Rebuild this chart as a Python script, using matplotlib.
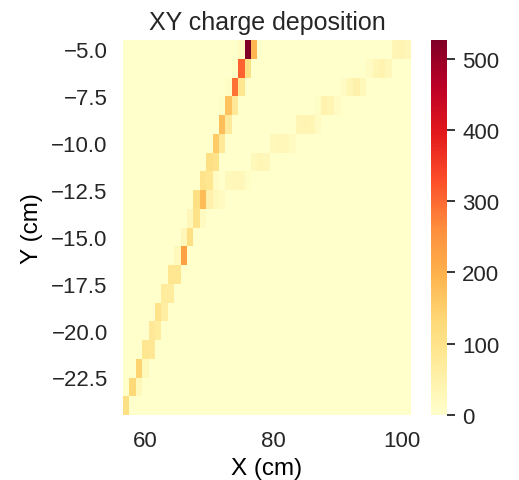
import numpy as np
import matplotlib
matplotlib.use("Agg")
import matplotlib.pyplot as plt

plt.rcParams['font.family'] = ['Liberation Sans', 'DejaVu Sans']
plt.rcParams['text.color'] = '#262626'
plt.rcParams['xtick.color'] = '#262626'
plt.rcParams['ytick.color'] = '#262626'

# main (bright) track: hit positions in cm and deposited charge
main_x = [75, 76, 77, 74, 75, 76, 73, 74, 75, 72, 73, 74, 72, 73, 71, 72,
          70, 71, 69, 70, 71, 68, 69, 70, 67, 68, 69, 66, 67, 65, 66, 64, 65,
          63, 64, 62, 63, 61, 62, 60, 61, 59, 60, 58, 59, 57]
main_y = [-5, -5, -5, -6, -6, -6, -7, -7, -7, -8, -8, -8, -9, -9, -10, -10,
          -11, -11, -12, -12, -12, -13, -13, -13, -14, -14, -14, -15, -15,
          -16, -16, -17, -17, -18, -18, -19, -19, -20, -20, -21, -21,
          -22, -22, -23, -23, -24]
main_q = [15, 526, 190, 10, 310, 110, 10, 290, 90, 10, 170, 80, 175, 75,
          155, 80, 110, 100, 100, 90, 15, 110, 180, 50, 30, 100, 20, 30, 110,
          25, 230, 90, 90, 70, 70, 100, 65, 80, 70, 90, 85, 140, 25, 130, 25,
          110]

# second (faint) track
side_x = [99, 100, 101, 95, 96, 97, 98, 91, 92, 93, 94, 87, 88, 89, 90,
          84, 85, 86, 87, 80, 81, 82, 83, 77, 78, 79, 73, 74, 75, 76, 71, 72]
side_y = [-5, -5, -5, -6, -6, -6, -6, -7, -7, -7, -7, -8, -8, -8, -8,
          -9, -9, -9, -9, -10, -10, -10, -10, -11, -11, -11,
          -12, -12, -12, -12, -13, -13]
side_q = [35, 40, 30, 15, 35, 45, 30, 15, 35, 50, 25, 10, 45, 40, 15,
          35, 40, 35, 15, 25, 30, 30, 15, 25, 35, 30, 25, 30, 30, 10, 25, 20]

x_edges = np.arange(56.5, 102.0, 1.0)
y_edges = np.arange(-24.5, -4.0, 1.0)
x_ticks = [60, 80, 100]
cbar_ticks = [0, 100, 200, 300, 400, 500]

x_all = main_x + side_x
y_all = main_y + side_y
q_all = main_q + side_q

fig = plt.figure(figsize=(5.19, 4.81), dpi=100)
ax = fig.add_axes([123 / 519, 1 - 416 / 481, 288 / 519, 375 / 481])
h = ax.hist2d(x_all, y_all, bins=[x_edges, y_edges], weights=q_all,
              cmap='YlOrRd')

ax.set_xticks(x_ticks)
ax.tick_params(axis='both', length=0, labelsize=16, pad=11)
for s in ax.spines.values():
    s.set_visible(False)
ax.set_xlabel('X (cm)', fontsize=17.5, labelpad=4)
ax.set_ylabel('Y (cm)', fontsize=17.5, labelpad=6)
ax.set_title('XY charge deposition', fontsize=18, pad=8)

cax = fig.add_axes([431 / 519, 1 - 416 / 481, 16 / 519, 375 / 481])
cb = fig.colorbar(h[3], cax=cax)
cb.set_ticks(cbar_ticks)
cb.ax.tick_params(labelsize=16, length=6, width=1.3, pad=5)
cb.outline.set_visible(False)

fig.savefig('out.png', dpi=100)
